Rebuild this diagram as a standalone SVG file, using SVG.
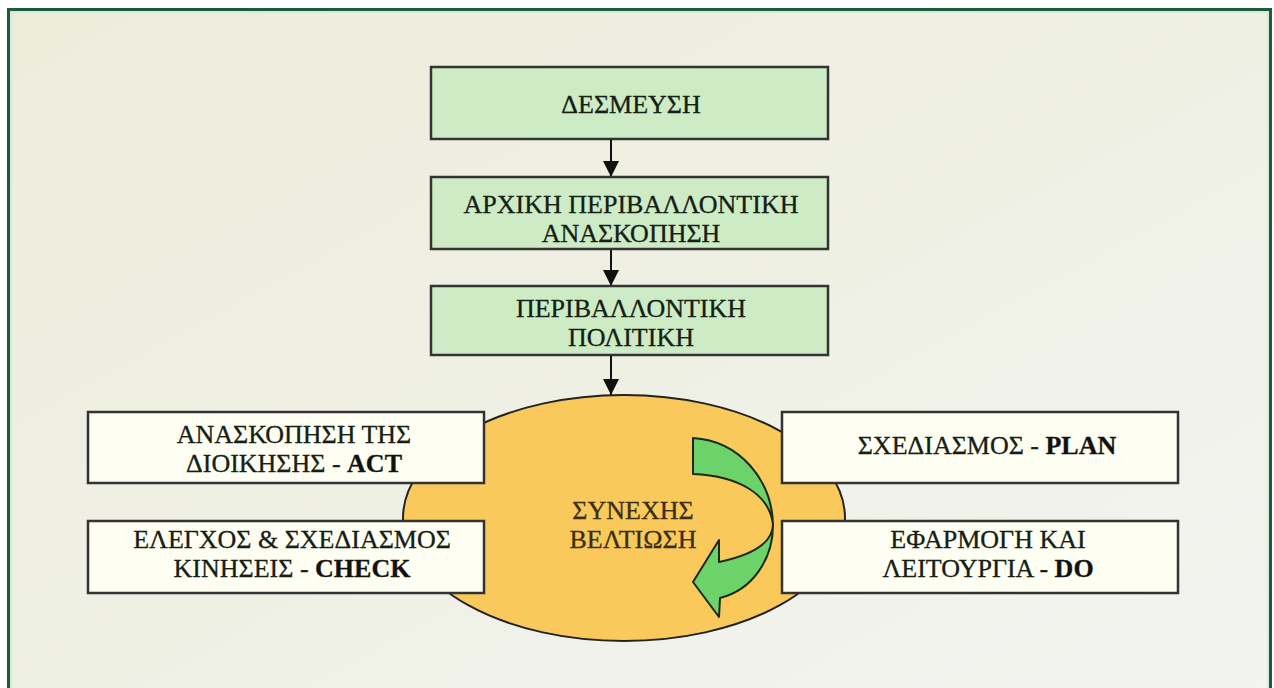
<svg xmlns="http://www.w3.org/2000/svg" width="1274" height="688" viewBox="0 0 1274 688">
<defs>
<linearGradient id="bg" x1="0" y1="0" x2="1" y2="1">
<stop offset="0" stop-color="#eeeddc"/>
<stop offset="0.5" stop-color="#eff0e4"/>
<stop offset="1" stop-color="#f3f4f1"/>
</linearGradient>
<marker id="ah" markerWidth="16" markerHeight="16" refX="16" refY="8" orient="auto" markerUnits="userSpaceOnUse">
<path d="M0,0 L16,8 L0,16 Z" fill="#111"/>
</marker>
<style>
.g{fill:#cdecc5;stroke:#333;stroke-width:2.5}
.w{fill:#fffef2;stroke:#333;stroke-width:2.5}
.t{font-family:"Liberation Serif","Times New Roman",serif;font-size:26px;fill:#152015;text-anchor:middle;stroke:#152015;stroke-width:0.3}
.b{font-weight:bold;fill:#111}
.c{stroke:#111;stroke-width:2;fill:none}
.e{fill:#3b2e10;stroke:#3b2e10}
</style>
</defs>
<rect x="0" y="0" width="1274" height="688" fill="#ffffff"/>
<rect x="8.5" y="9.5" width="1262" height="690" fill="url(#bg)" stroke="#1d5c3a" stroke-width="3"/>
<rect x="11" y="12" width="1257" height="685" fill="none" stroke="#c9ecd6" stroke-width="1.5"/>

<g id="continuous-improvement">
<ellipse cx="624" cy="518" rx="221" ry="123" fill="#f9c95c" stroke="#222" stroke-width="2"/>
<text class="t e" x="633" y="519">ΣΥΝΕΧΗΣ</text>
<text class="t e" x="633" y="548">ΒΕΛΤΙΩΣΗ</text>
</g>

<g id="cycle-arrow">
<path d="M693,438 C740,441 772,480 773,525 C773,560 752,590 720,598 L719,617 L693,582 L719,540 L719,562 C748,556 772,545 773,525 C770,495 740,476 693,474 Z" fill="#6cd36a" stroke="#1a2a12" stroke-width="2" stroke-linejoin="round"/>
</g>

<g id="connectors">
<line class="c" x1="611" y1="139" x2="611" y2="177" marker-end="url(#ah)"/>
<line class="c" x1="611" y1="249" x2="611" y2="286" marker-end="url(#ah)"/>
<line class="c" x1="611" y1="355" x2="611" y2="395" marker-end="url(#ah)"/>
</g>

<g id="commitment">
<rect class="g" x="431" y="67" width="397" height="72"/>
<text class="t" x="631" y="113">ΔΕΣΜΕΥΣΗ</text>
</g>
<g id="initial-review">
<rect class="g" x="431" y="177" width="397" height="72"/>
<text class="t" x="631" y="213">ΑΡΧΙΚΗ ΠΕΡΙΒΑΛΛΟΝΤΙΚΗ</text>
<text class="t" x="631" y="242">ΑΝΑΣΚΟΠΗΣΗ</text>
</g>
<g id="policy">
<rect class="g" x="431" y="286" width="397" height="69"/>
<text class="t" x="631" y="317">ΠΕΡΙΒΑΛΛΟΝΤΙΚΗ</text>
<text class="t" x="631" y="346">ΠΟΛΙΤΙΚΗ</text>
</g>

<g id="act">
<rect class="w" x="88" y="412" width="396" height="71"/>
<text class="t" x="294" y="443">ΑΝΑΣΚΟΠΗΣΗ ΤΗΣ</text>
<text class="t" x="294" y="472">ΔΙΟΙΚΗΣΗΣ - <tspan class="b">ACT</tspan></text>
</g>
<g id="check">
<rect class="w" x="88" y="521" width="396" height="72"/>
<text class="t" x="292" y="548">ΕΛΕΓΧΟΣ &amp; ΣΧΕΔΙΑΣΜΟΣ</text>
<text class="t" x="292" y="577">ΚΙΝΗΣΕΙΣ - <tspan class="b">CHECK</tspan></text>
</g>
<g id="plan">
<rect class="w" x="782" y="412" width="396" height="71"/>
<text class="t" x="987" y="454">ΣΧΕΔΙΑΣΜΟΣ - <tspan class="b">PLAN</tspan></text>
</g>
<g id="do">
<rect class="w" x="782" y="521" width="396" height="72"/>
<text class="t" x="988" y="548">ΕΦΑΡΜΟΓΗ ΚΑΙ</text>
<text class="t" x="988" y="577">ΛΕΙΤΟΥΡΓΙΑ - <tspan class="b">DO</tspan></text>
</g>
</svg>
